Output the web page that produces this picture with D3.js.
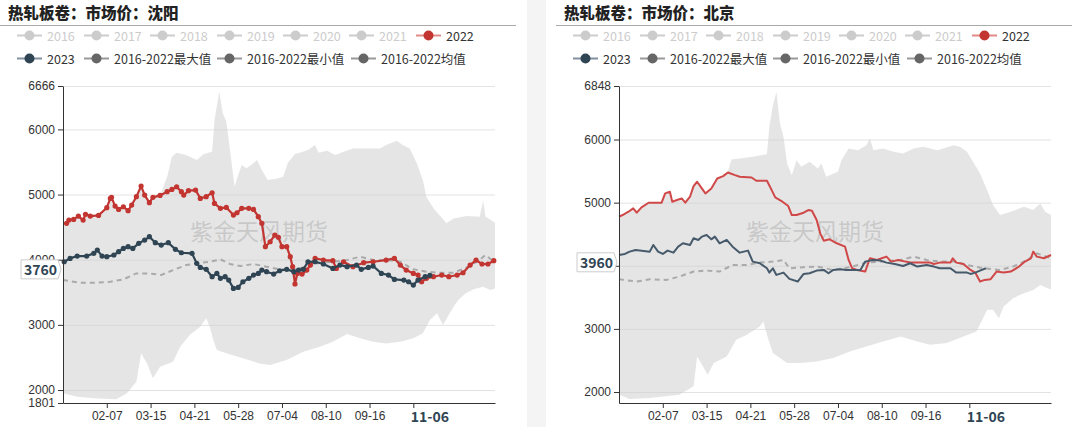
<!DOCTYPE html>
<html><head><meta charset="utf-8">
<script src="https://cdn.jsdelivr.net/npm/d3@7"></script>
<style>
html,body{margin:0;padding:0;background:#fff;}
svg{display:block;font-family:"Noto Sans CJK SC","Microsoft YaHei",sans-serif;}
</style></head><body>
<svg id="c" width="1075" height="427"></svg>
<script>
// ---------- data ----------
const categories = d3.timeDay.range(new Date(2020,0,1), new Date(2021,0,1)).map(d3.timeFormat("%m-%d"));
const xTickDates = ["02-07","03-15","04-21","05-28","07-04","08-10","09-16","10-23"];
const pointerDate = "11-06";

const legendNames = ["2016","2017","2018","2019","2020","2021","2022","2023","2016-2022最大值","2016-2022最小值","2016-2022均值"];
const legendActive = [false,false,false,false,false,false,true,true,true,true,true];

// 沈阳 (Shenyang)
const syTitle = "热轧板卷：市场价：沈阳";
const syDomain = [1801, 6666];
const syTicks = [1801, 2000, 3000, 4000, 5000, 6000, 6666];
const syPointer = 3760;
const sy2022 = [[3,4558],[5,4609],[9,4619],[13,4670],[17,4609],[19,4696],[23,4670],[30,4680],[37,4798],[40,4941],[41,4957],[44,4823],[47,4772],[51,4813],[55,4752],[58,4839],[62,4967],[66,5130],[69,4992],[73,4875],[76,4957],[82,4987],[88,5044],[92,5079],[96,5120],[100,5044],[102,4992],[106,5059],[112,5069],[116,4941],[121,4967],[126,5028],[128,4864],[133,4788],[138,4803],[144,4685],[147,4721],[151,4788],[157,4788],[161,4772],[165,4660],[168,4558],[171,4200],[175,4276],[179,4379],[182,4343],[185,4200],[189,4200],[192,4046],[194,3893],[196,3627],[198,3790],[202,3780],[206,3841],[209,3918],[213,4020],[220,3995],[228,3985],[231,3867],[237,3969],[245,3893],[254,3954],[262,3969],[273,3995],[280,4020],[285,3918],[290,3841],[296,3790],[300,3765],[303,3662],[307,3714],[313,3739],[320,3765],[326,3739],[333,3765],[338,3800],[344,3918],[349,3995],[354,3934],[359,3934],[364,3985]];
const sy2023 = [[1,3969],[6,4020],[12,4056],[20,4056],[26,4097],[29,4148],[33,4056],[37,4046],[43,4072],[47,4123],[51,4174],[55,4200],[59,4174],[64,4251],[69,4302],[73,4353],[78,4261],[83,4225],[89,4261],[95,4159],[100,4107],[109,4097],[113,3944],[116,3882],[121,3852],[126,3739],[130,3790],[133,3714],[137,3739],[140,3688],[144,3560],[148,3575],[152,3662],[157,3714],[161,3765],[165,3790],[168,3841],[172,3816],[178,3780],[183,3831],[189,3852],[195,3816],[199,3841],[203,3852],[207,3969],[213,3969],[220,3934],[228,3867],[234,3918],[240,3893],[248,3918],[252,3852],[258,3882],[262,3903],[269,3790],[275,3765],[280,3698],[288,3688],[292,3662],[296,3611],[300,3688],[306,3739],[310,3760]];
const syMean = [[0,3688],[14,3647],[28,3647],[40,3662],[51,3698],[62,3790],[73,3790],[83,3765],[93,3841],[104,3918],[116,3954],[124,3969],[133,4005],[141,3934],[150,3903],[161,3934],[172,3893],[183,3852],[195,3852],[206,3893],[217,3954],[228,3969],[240,3995],[251,4046],[262,3995],[273,3995],[285,3969],[296,3852],[307,3816],[318,3800],[330,3800],[341,3882],[352,3995],[357,4072],[364,3969]];
const syMax = [[0,4558],[3,4558],[5,4609],[9,4619],[13,4670],[17,4609],[19,4696],[23,4670],[30,4685],[37,4798],[40,4941],[41,4967],[44,4823],[47,4772],[51,4813],[55,4752],[58,4839],[62,4967],[66,5130],[69,4992],[73,4875],[76,4957],[82,4987],[88,5274],[92,5581],[96,5642],[104,5606],[113,5530],[119,5621],[126,5657],[128,6143],[132,6578],[135,6246],[138,6118],[142,5555],[145,5120],[148,5299],[151,5453],[155,5402],[159,5453],[164,5530],[168,5376],[173,5223],[181,5248],[186,5274],[190,5489],[196,5621],[200,5642],[207,5683],[213,5760],[216,5642],[223,5673],[230,5606],[237,5657],[245,5708],[256,5708],[268,5708],[273,5760],[282,5826],[287,5760],[293,5708],[299,5478],[304,5223],[307,4967],[313,4788],[318,4685],[324,4558],[330,4634],[341,4670],[352,4660],[355,4905],[357,4660],[365,4568]];
const syMin = [[0,1949],[12,1898],[26,1872],[45,1857],[54,1949],[62,2128],[66,2563],[71,2409],[76,2179],[82,2358],[93,2435],[99,2665],[107,2844],[116,2972],[121,3100],[124,2972],[127,2767],[130,2614],[138,2563],[152,2486],[166,2409],[175,2384],[189,2460],[203,2588],[217,2665],[228,2742],[240,2859],[251,2793],[262,2742],[273,2716],[285,2742],[296,2793],[304,2870],[310,3075],[316,3177],[321,2998],[325,3126],[330,3279],[334,3381],[340,3483],[347,3545],[355,3586],[361,3535],[365,3560]];

// 北京 (Beijing)
const bjTitle = "热轧板卷：市场价：北京";
const bjDomain = [1826, 6848];
const bjTicks = [2000, 3000, 4000, 5000, 6000, 6848];
const bjPointer = 3960;
const bj2022 = [[0,4777],[3,4804],[8,4856],[12,4909],[15,4841],[19,4925],[25,4999],[36,4999],[39,5146],[43,5173],[45,5015],[49,5041],[53,5067],[56,4999],[60,5094],[63,5262],[66,5331],[70,5225],[73,5146],[78,5225],[83,5383],[88,5420],[92,5478],[98,5436],[102,5410],[112,5399],[116,5347],[125,5347],[129,5199],[132,5083],[137,5030],[143,4946],[146,4804],[150,4804],[156,4841],[160,4883],[163,4872],[167,4725],[170,4514],[173,4398],[178,4419],[184,4356],[191,4303],[194,4092],[197,3960],[201,3934],[208,3908],[212,4119],[218,4092],[222,4119],[226,4145],[230,4066],[236,4092],[242,4066],[247,4050],[254,4050],[263,4050],[266,4029],[271,4050],[280,4050],[282,4119],[285,4050],[291,4029],[297,3934],[301,3892],[305,3750],[309,3776],[314,3787],[319,3908],[325,3892],[331,3908],[338,3987],[343,4066],[348,4119],[350,4224],[353,4145],[359,4119],[365,4171]];
const bj2023 = [[0,4171],[5,4187],[9,4224],[14,4250],[26,4224],[29,4329],[33,4224],[37,4187],[41,4240],[46,4208],[50,4303],[54,4356],[60,4329],[63,4435],[67,4409],[70,4461],[74,4487],[78,4419],[81,4461],[85,4356],[91,4409],[96,4303],[102,4208],[109,4240],[113,4066],[119,4040],[125,3960],[127,3892],[130,3960],[133,3855],[139,3892],[144,3792],[151,3750],[156,3871],[161,3882],[167,3924],[173,3934],[177,3882],[181,3934],[187,3945],[192,3934],[204,3934],[208,4066],[214,4092],[221,4082],[226,4050],[233,4029],[240,3997],[246,4040],[252,3987],[260,4013],[266,3987],[271,3960],[280,3960],[285,3892],[294,3892],[297,3871],[301,3892],[305,3924],[310,3960]];
const bjMean = [[0,3787],[15,3750],[26,3787],[40,3776],[51,3829],[63,3908],[74,3924],[85,3908],[96,4013],[108,4013],[119,4050],[130,4066],[139,4092],[144,3960],[156,3976],[167,3987],[181,3934],[195,3976],[209,4050],[223,4066],[238,4092],[249,4145],[260,4092],[271,4066],[283,4066],[294,4013],[308,3960],[322,3934],[333,3987],[345,4092],[353,4198],[365,4119]];
const bjMax = [[0,4777],[3,4804],[8,4856],[12,4909],[15,4860],[19,4925],[25,4999],[36,4999],[39,5146],[43,5173],[45,5030],[49,5041],[53,5067],[56,5010],[60,5094],[63,5262],[66,5331],[70,5225],[73,5146],[78,5225],[83,5383],[88,5420],[92,5489],[95,5684],[102,5700],[113,5726],[125,5768],[127,6200],[130,6543],[133,6754],[136,6253],[139,6042],[142,5621],[146,5436],[150,5673],[154,5568],[161,5647],[168,5542],[171,5621],[175,5410],[185,5489],[188,5673],[194,5858],[202,5831],[209,5910],[212,6016],[215,5831],[223,5858],[232,5805],[240,5779],[249,5858],[257,5884],[269,5831],[283,5910],[288,5884],[294,5805],[300,5621],[305,5463],[311,5199],[316,4962],[322,4804],[331,4856],[342,4935],[350,4883],[356,4988],[360,4856],[365,4804]];
const bjMin = [[0,1958],[9,1889],[26,1905],[51,1958],[63,2090],[66,2564],[71,2406],[75,2274],[80,2459],[91,2564],[99,2827],[108,2907],[119,3038],[122,3117],[125,2907],[130,2617],[142,2459],[153,2459],[167,2485],[181,2538],[195,2643],[209,2722],[223,2801],[238,2880],[252,2801],[263,2749],[277,2775],[291,2880],[302,2959],[307,3144],[311,3302],[316,3302],[321,3170],[325,3354],[333,3486],[342,3565],[350,3618],[356,3697],[362,3644],[365,3628]];

// ---------- layout / style ----------
const W = 1075, H = 427;
const plotL = 63, plotR = 495, plotT = 86, plotB = 403;
const legendRows = [{y:35.5, xs:[17,84,150,217,283,349,416]}, {y:58.5, xs:[17,84,217,351]}];

const panels = [
  {ox:0, title:syTitle, domain:syDomain, ticks:syTicks, showMin:true, s22:sy2022, s23:sy2023, max:syMax, min:syMin, mean:syMean, pointer:syPointer, symbols:true, lw:2.2, c22:"#c23531", c23:"#2f4554"},
  {ox:556, title:bjTitle, domain:bjDomain, ticks:bjTicks, showMin:false, s22:bj2022, s23:bj2023, max:bjMax, min:bjMin, mean:bjMean, pointer:bjPointer, symbols:false, lw:2, c22:"#d04848", c23:"#465a6b"}
];

const svg = d3.select("#c");
svg.append("rect").attr("width", W).attr("height", H).attr("fill", "#fff");
svg.append("rect").attr("x", 527).attr("y", 0).attr("width", 19).attr("height", H).attr("fill", "#f4f4f4");

const x = d3.scalePoint().domain(categories).range([plotL, plotR]).padding(0);

panels.forEach(p => {
  const g = svg.append("g").attr("transform", `translate(${p.ox},0)`);
  const y = d3.scaleLinear().domain(p.domain).range([plotB, plotT]);
  const px = d => x(categories[d[0]]);
  const py = d => y(d[1]);

  // title
  g.append("text").attr("x", 8).attr("y", 18.5).text(p.title)
    .attr("font-size", "15.5px").attr("font-weight", 900).attr("fill", "#222");
  g.append("line").attr("x1", 0).attr("x2", 516).attr("y1", 25.5).attr("y2", 25.5)
    .attr("stroke", "#aaa").attr("stroke-width", 1);

  // legend
  let k = 0;
  legendRows.forEach(row => {
    row.xs.forEach(lx => {
      const i = k++;
      const name = legendNames[i];
      const active = legendActive[i];
      let lineC = "#ccc", dotC = "#ccc", textC = "#ccc";
      if (active) {
        textC = "#333";
        if (name === "2022") { lineC = "#e28a86"; dotC = "#c23531"; }
        else if (name === "2023") { lineC = "#8290a0"; dotC = "#2f4554"; }
        else { lineC = "#999"; dotC = "#666"; }
      }
      const lg = g.append("g");
      lg.append("line").attr("x1", lx).attr("x2", lx + 25).attr("y1", row.y).attr("y2", row.y)
        .attr("stroke", lineC).attr("stroke-width", 2);
      lg.append("circle").attr("cx", lx + 12.5).attr("cy", row.y).attr("r", 5).attr("fill", dotC);
      lg.append("text").attr("x", lx + 30).attr("y", row.y).attr("dominant-baseline", "central")
        .attr("font-size", "12.5px").attr("fill", textC).text(name);
    });
  });

  // grid
  g.selectAll("line.grid").data(p.ticks.filter(t => t !== p.domain[0])).enter().append("line")
    .attr("x1", plotL).attr("x2", plotR).attr("y1", d => y(d) + 0.5).attr("y2", d => y(d) + 0.5)
    .attr("stroke", "#e3e3e3").attr("stroke-width", 1);

  // band
  const poly = p.max.concat(p.min.slice().reverse());
  g.append("path").attr("d", d3.line().x(px).y(py)(poly) + "Z")
    .attr("fill", "#cfcfcf").attr("fill-opacity", 0.55);

  // watermark
  g.append("text").attr("x", plotL + 127).attr("y", 240).text("紫金天风期货")
    .attr("font-size", "23px").attr("fill", "#9a9a9a").attr("fill-opacity", 0.38);

  const line = d3.line().x(px).y(py);
  // mean
  g.append("path").attr("d", line(p.mean)).attr("fill", "none").attr("stroke", "#aaa")
    .attr("stroke-width", 2).attr("stroke-dasharray", "5,4");
  // 2022, 2023
  [[p.s22, p.c22], [p.s23, p.c23]].forEach(([s, c]) => {
    g.append("path").attr("d", line(s)).attr("fill", "none").attr("stroke", c)
      .attr("stroke-width", p.lw).attr("stroke-linejoin", "round");
    if (p.symbols) {
      g.selectAll(null).data(s).enter().append("circle")
        .attr("cx", px).attr("cy", py).attr("r", 2.6).attr("fill", c);
    }
  });

  // axes
  const yAxis = d3.axisLeft(y).tickValues(p.ticks).tickSize(5).tickSizeOuter(0).tickPadding(3)
    .tickFormat(d => d);
  const ya = g.append("g").attr("transform", `translate(${plotL},0)`).call(yAxis);
  ya.selectAll("text").attr("font-size", "12px").attr("fill", "#333").attr("font-family", "inherit");
  ya.selectAll("line").attr("stroke", "#333");
  ya.select(".domain").attr("stroke", "#333");

  const ptrX = x(pointerDate);
  const xAxis = d3.axisBottom(x).tickValues(xTickDates).tickSize(5).tickSizeOuter(0).tickPadding(3)
    .tickFormat(d => Math.abs(x(d) - ptrX) < 25 ? "" : d);
  const xa = g.append("g").attr("transform", `translate(0,${plotB})`).call(xAxis);
  xa.selectAll("text").attr("font-size", "12px").attr("fill", "#333").attr("font-family", "inherit");
  xa.selectAll("line").attr("stroke", "#333");
  xa.select(".domain").attr("stroke", "#333");

  // x pointer label
  g.append("text").attr("x", ptrX).attr("y", plotB + 13).attr("text-anchor", "middle")
    .attr("dominant-baseline", "central").attr("font-size", "14px").attr("font-weight", 700)
    .attr("fill", "#2f4554").text(pointerDate);

  // y pointer label
  const cy = y(p.pointer) - 6;
  const bx0 = plotL - 42, bx1 = plotL - 5, tip = plotL - 2;
  g.append("path").attr("d", `M${bx0},${cy - 9.5}L${bx1},${cy - 9.5}L${tip},${cy}L${bx1},${cy + 9.5}L${bx0},${cy + 9.5}Z`)
    .attr("fill", "#fff").attr("stroke", "#ccc").attr("stroke-width", 1);
  g.append("text").attr("x", (bx0 + bx1) / 2 + 1).attr("y", cy).attr("text-anchor", "middle")
    .attr("dominant-baseline", "central").attr("font-size", "14px").attr("font-weight", 700)
    .attr("fill", "#2f4554").text(p.pointer);
});
</script>
</body></html>
